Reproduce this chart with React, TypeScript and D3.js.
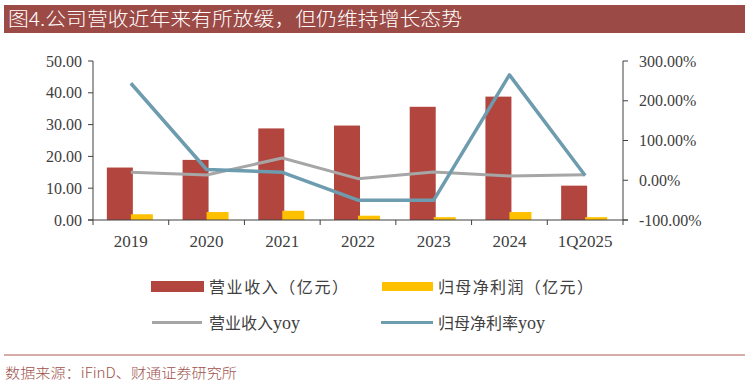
import * as d3 from "d3";

const categories = ["2019", "2020", "2021", "2022", "2023", "2024", "1Q2025"];
const revenue = [16.5, 18.9, 28.8, 29.7, 35.6, 38.8, 10.8];
const netProfit = [1.8, 2.5, 2.9, 1.35, 0.9, 2.5, 0.9];
const revenueYoy = [20, 13, 56, 4, 21, 11, 14];
const profitYoy = [244, 27, 20, -50, -50, 265, 12];
const leftTicks = [0, 10, 20, 30, 40, 50];
const rightTicks = [-100, 0, 100, 200, 300];

const W = 748;
const H = 384;
const plot = { left: 93, right: 623, top: 61, bottom: 220 };

const RED = "#B2463F";
const YELLOW = "#FFC000";
const GRAY = "#A6A6A6";
const BLUE = "#6D9CAF";
const SERIF = "'Liberation Serif', 'Times New Roman', serif";
const CJK = "'Noto Sans CJK SC', sans-serif";

export default function App() {
  const x = d3
    .scaleBand<string>()
    .domain(categories)
    .range([plot.left, plot.right]);
  const yL = d3.scaleLinear().domain([0, 50]).range([plot.bottom, plot.top]);
  const yR = d3.scaleLinear().domain([-100, 300]).range([plot.bottom, plot.top]);
  const cx = (c: string) => (x(c) ?? 0) + x.bandwidth() / 2;

  const line = (vals: number[]) =>
    d3
      .line<number>()
      .x((_, i) => cx(categories[i]))
      .y(d => yR(d))(vals) ?? "";

  const bounds = categories.map(c => x(c) ?? 0).concat([plot.right]);

  return (
    <div style={{ position: "absolute", left: 0, top: 0 }}>
      <svg width={W} height={H} style={{ display: "block", background: "#fff" }}>
        {/* title bar */}
        <rect x={4} y={5} width={741} height={28} fill="#9C4A45" />
        <text
          x={8}
          y={26}
          fill="#fff"
          fontFamily={CJK}
          fontWeight={300}
          fontSize={19}
          textLength={454}
          lengthAdjust="spacingAndGlyphs"
        >
          图4.公司营收近年来有所放缓，但仍维持增长态势
        </text>

        {/* bars */}
        {categories.map((c, i) => (
          <g key={c}>
            <rect
              x={cx(c) - 24}
              y={yL(revenue[i])}
              width={26}
              height={plot.bottom - yL(revenue[i])}
              fill={RED}
            />
            <rect
              x={cx(c)}
              y={yL(netProfit[i])}
              width={22}
              height={plot.bottom - yL(netProfit[i])}
              fill={YELLOW}
            />
          </g>
        ))}

        {/* lines */}
        <path d={line(revenueYoy)} fill="none" stroke={GRAY} strokeWidth={3} strokeLinejoin="round" />
        <path d={line(profitYoy)} fill="none" stroke={BLUE} strokeWidth={3.5} strokeLinejoin="round" />

        {/* left axis */}
        <line x1={plot.left} x2={plot.left} y1={plot.top} y2={plot.bottom} stroke="#404040" />
        {leftTicks.map(t => (
          <g key={t}>
            <line x1={plot.left - 5} x2={plot.left} y1={yL(t)} y2={yL(t)} stroke="#404040" />
            <text
              x={82}
              y={yL(t)}
              dy="0.35em"
              textAnchor="end"
              fontFamily={SERIF}
              fontSize={16}
              fill="#404040"
            >
              {t.toFixed(2)}
            </text>
          </g>
        ))}

        {/* right axis */}
        <line x1={plot.right} x2={plot.right} y1={plot.top} y2={plot.bottom} stroke="#404040" />
        {rightTicks.map(t => (
          <g key={t}>
            <line x1={plot.right} x2={plot.right + 5} y1={yR(t)} y2={yR(t)} stroke="#404040" />
            <text
              x={639}
              y={yR(t)}
              dy="0.35em"
              fontFamily={SERIF}
              fontSize={16}
              fill="#404040"
            >
              {t.toFixed(2)}%
            </text>
          </g>
        ))}

        {/* bottom axis */}
        <line x1={plot.left - 5} x2={plot.right + 5} y1={plot.bottom} y2={plot.bottom} stroke="#404040" />
        {bounds.map((b, i) => (
          <line key={i} x1={b} x2={b} y1={plot.bottom} y2={plot.bottom + 5} stroke="#404040" />
        ))}
        {categories.map(c => (
          <text
            key={c}
            x={cx(c)}
            y={247}
            textAnchor="middle"
            fontFamily={SERIF}
            fontSize={17}
            fill="#404040"
          >
            {c}
          </text>
        ))}

        {/* legend */}
        <rect x={151} y={281} width={53} height={11} fill={RED} />
        <text
          x={209}
          y={293}
          fontFamily={CJK}
          fontSize={16}
          fill="#404040"
          textLength={139}
          lengthAdjust="spacing"
        >
          营业收入（亿元）
        </text>
        <rect x={382} y={282} width={51} height={9} fill={YELLOW} />
        <text
          x={438}
          y={293}
          fontFamily={CJK}
          fontSize={16}
          fill="#404040"
          textLength={155}
          lengthAdjust="spacing"
        >
          归母净利润（亿元）
        </text>
        <line x1={152} x2={202} y1={322.5} y2={322.5} stroke={GRAY} strokeWidth={3} />
        <text x={209} y={329} fontFamily={CJK} fontSize={16} fill="#404040">
          营业收入<tspan fontFamily={SERIF} fontSize={18}>yoy</tspan>
        </text>
        <line x1={381} x2={433} y1={322.5} y2={322.5} stroke={BLUE} strokeWidth={3} />
        <text x={438} y={329} fontFamily={CJK} fontSize={16} fill="#404040">
          归母净利率<tspan fontFamily={SERIF} fontSize={18}>yoy</tspan>
        </text>

        {/* footer */}
        <line x1={4} x2={745} y1={355} y2={355} stroke="#C98F8B" strokeWidth={1.5} />
        <text
          x={5}
          y={378}
          fontFamily={CJK}
          fontWeight={300}
          fontSize={14}
          fill="#A0524D"
          textLength={232}
          lengthAdjust="spacingAndGlyphs"
        >
          数据来源：iFinD、财通证券研究所
        </text>
      </svg>
    </div>
  );
}
